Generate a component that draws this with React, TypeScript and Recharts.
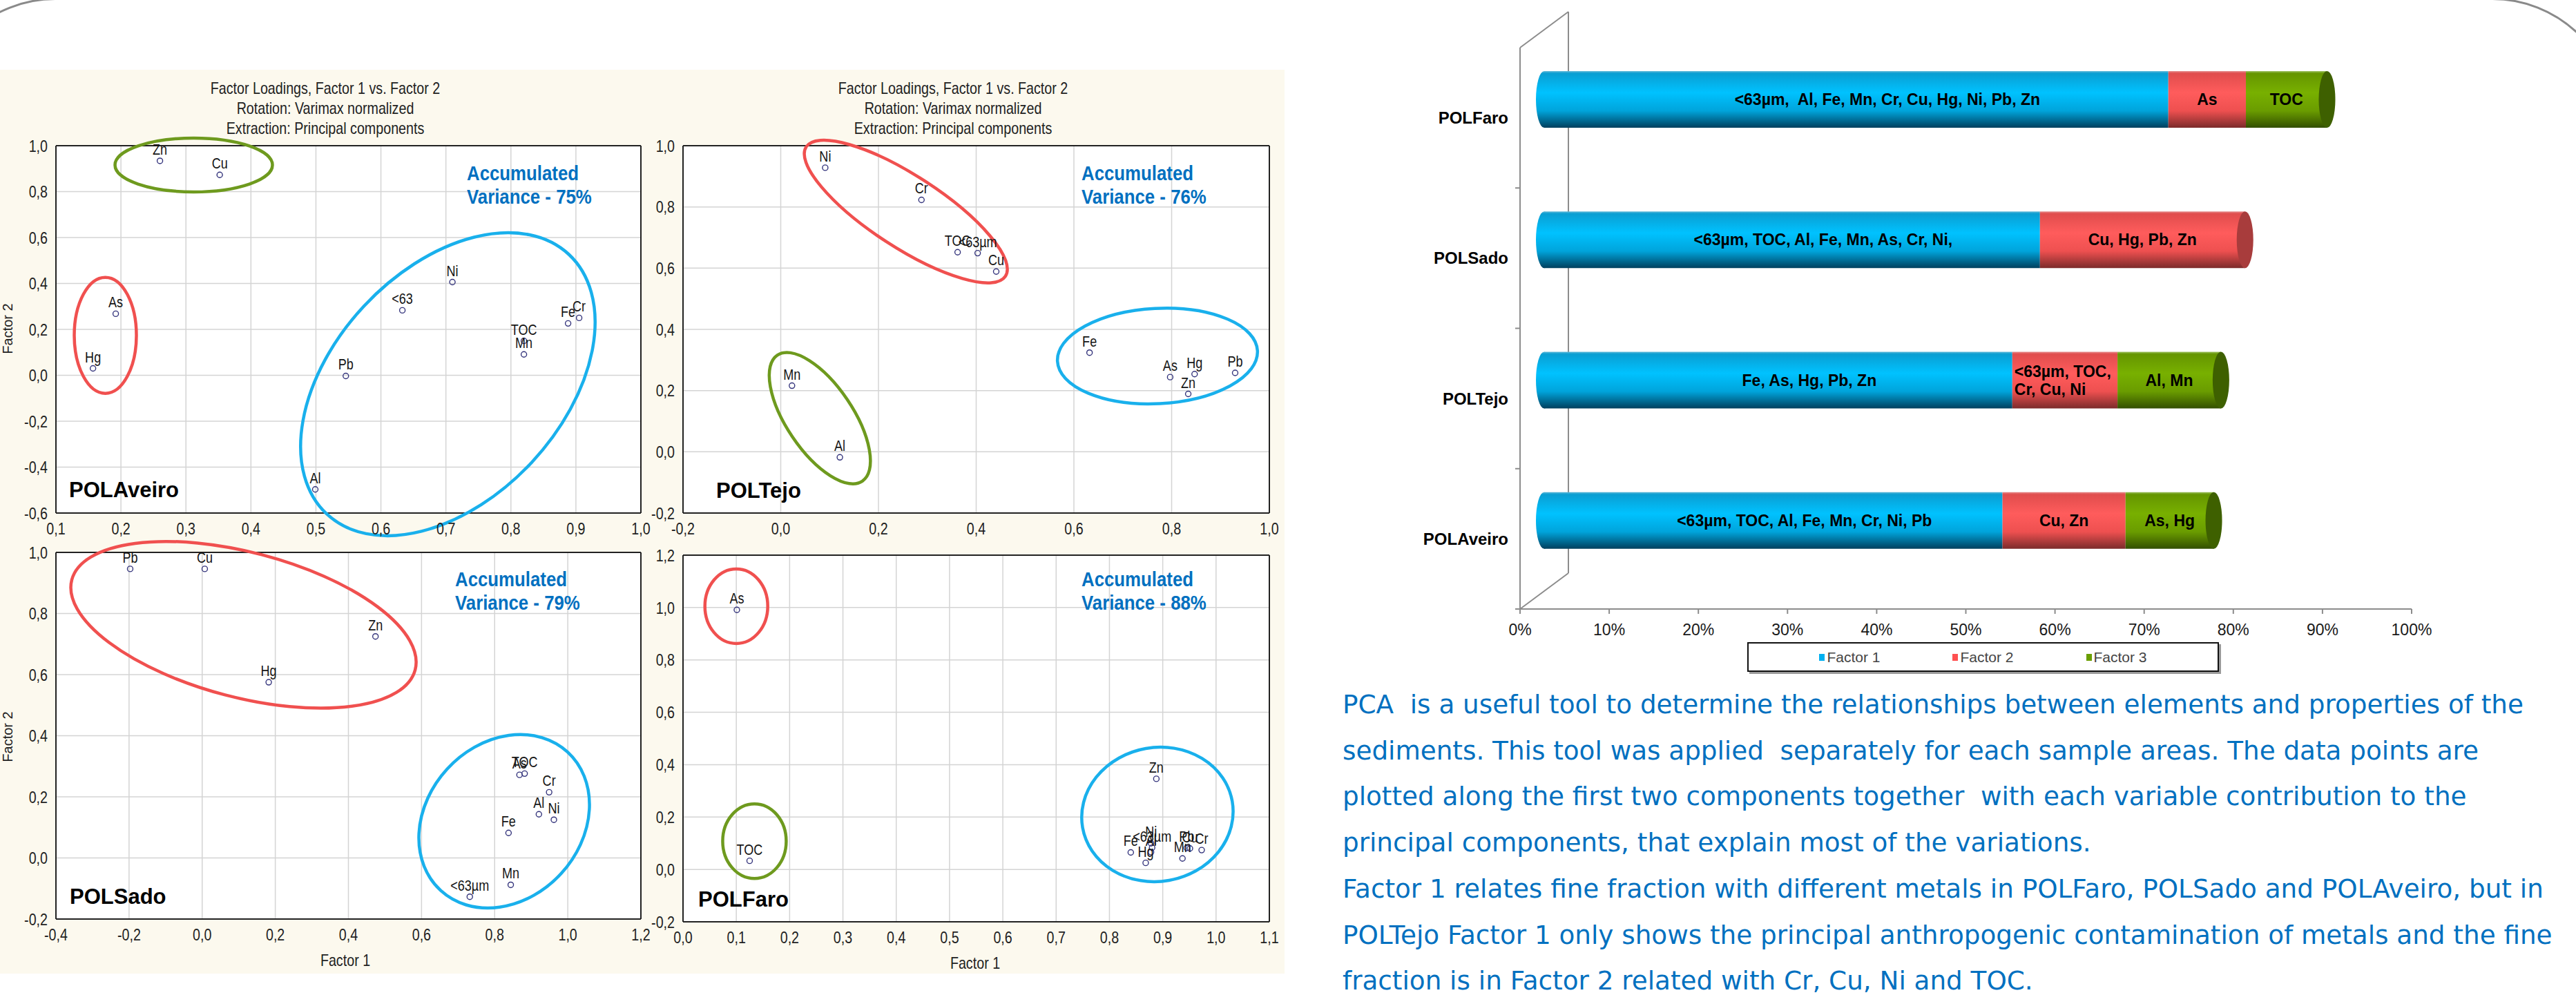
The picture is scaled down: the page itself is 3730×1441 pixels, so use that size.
import React from "react";
import {
  Bar,
  BarChart,
  CartesianGrid,
  ReferenceLine,
  Scatter,
  ScatterChart,
  XAxis,
  YAxis,
} from "recharts";

const SANS = "'Liberation Sans', Arial, sans-serif";
const PARA_FONT = "'DejaVu Sans', Tahoma, Verdana, sans-serif";
// Arial Narrow look-alike: Liberation Sans squeezed horizontally
const NARROW_SCALE = 0.82;

const TEXT_BLUE = "#0070C0";
const RING_BLUE = "#19B0EC";
const RING_RED = "#F0504F";
const RING_GREEN = "#6E9A1E";

// ---------- factor loadings: Factor 1 / Factor 2 per element ----------
const aveiroVars = ["Zn", "Cu", "As", "Hg", "Pb", "<63", "Ni", "TOC", "Mn", "Fe", "Cr", "Al"];
const aveiroF1 = [0.26, 0.352, 0.192, 0.157, 0.546, 0.633, 0.71, 0.82, 0.82, 0.888, 0.905, 0.499];
const aveiroF2 = [0.934, 0.873, 0.268, 0.03, -0.003, 0.283, 0.406, 0.15, 0.091, 0.226, 0.25, -0.497];

const tejoVars = ["Ni", "Cr", "TOC", "<63µm", "Cu", "Fe", "As", "Hg", "Zn", "Pb", "Mn", "Al"];
const tejoF1 = [0.091, 0.288, 0.362, 0.403, 0.441, 0.632, 0.797, 0.847, 0.834, 0.93, 0.023, 0.121];
const tejoF2 = [0.928, 0.823, 0.652, 0.649, 0.589, 0.324, 0.244, 0.254, 0.189, 0.258, 0.216, -0.018];

const sadoVars = ["Pb", "Cu", "Zn", "Hg", "As", "TOC", "Cr", "Al", "Ni", "Fe", "Mn", "<63µm"];
const sadoF1 = [-0.197, 0.007, 0.474, 0.182, 0.868, 0.882, 0.949, 0.921, 0.962, 0.838, 0.844, 0.732];
const sadoF2 = [0.946, 0.946, 0.725, 0.575, 0.272, 0.276, 0.215, 0.143, 0.125, 0.082, -0.088, -0.127];

const faroVars = ["As", "TOC", "Zn", "Ni", "<63µm", "Al", "Fe", "Hg", "Pb", "Cu", "Mn", "Cr"];
const faroF1 = [0.101, 0.125, 0.888, 0.878, 0.88, 0.878, 0.84, 0.868, 0.945, 0.951, 0.937, 0.973];
const faroF2 = [0.991, 0.033, 0.346, 0.1, 0.083, 0.066, 0.065, 0.025, 0.082, 0.08, 0.042, 0.074];

// axis ticks
const aveiroXTicks = [0.1, 0.2, 0.3, 0.4, 0.5, 0.6, 0.7, 0.8, 0.9, 1.0];
const aveiroYTicks = [-0.6, -0.4, -0.2, 0.0, 0.2, 0.4, 0.6, 0.8, 1.0];
const tejoXTicks = [-0.2, 0.0, 0.2, 0.4, 0.6, 0.8, 1.0];
const tejoYTicks = [-0.2, 0.0, 0.2, 0.4, 0.6, 0.8, 1.0];
const sadoXTicks = [-0.4, -0.2, 0.0, 0.2, 0.4, 0.6, 0.8, 1.0, 1.2];
const sadoYTicks = [-0.2, 0.0, 0.2, 0.4, 0.6, 0.8, 1.0];
const faroXTicks = [0.0, 0.1, 0.2, 0.3, 0.4, 0.5, 0.6, 0.7, 0.8, 0.9, 1.0, 1.1];
const faroYTicks = [-0.2, 0.0, 0.2, 0.4, 0.6, 0.8, 1.0, 1.2];

const varianceExplained = ["75%", "76%", "79%", "88%"];

// ---------- share of variance per factor (stacked cylinders) ----------
const areas = ["POLFaro", "POLSado", "POLTejo", "POLAveiro"];
const factor1Share = [70.0, 55.6, 52.5, 51.4];
const factor2Share = [8.7, 23.0, 11.8, 13.8];
const factor3Share = [9.1, 0, 11.6, 9.9];
const factor1Elements = [
  "<63µm,  Al, Fe, Mn, Cr, Cu, Hg, Ni, Pb, Zn",
  "<63µm, TOC, Al, Fe, Mn, As, Cr, Ni,",
  "Fe, As, Hg, Pb, Zn",
  "<63µm, TOC, Al, Fe, Mn, Cr, Ni, Pb",
];
const factor2Elements = ["As", "Cu, Hg, Pb, Zn", "<63µm, TOC,\nCr, Cu, Ni", "Cu, Zn"];
const factor3Elements = ["TOC", "", "Al, Mn", "As, Hg"];
const percentTicks = [0, 10, 20, 30, 40, 50, 60, 70, 80, 90, 100];

const paragraph = [
  "PCA  is a useful tool to determine the relationships between elements and properties of the",
  "sediments. This tool was applied  separately for each sample areas. The data points are",
  "plotted along the first two components together  with each variable contribution to the",
  "principal components, that explain most of the variations.",
  "Factor 1 relates fine fraction with different metals in POLFaro, POLSado and POLAveiro, but in",
  "POLTejo Factor 1 only shows the principal anthropogenic contamination of metals and the fine",
  "fraction is in Factor 2 related with Cr, Cu, Ni and TOC.",
];

const toPoints = (vars: string[], f1: number[], f2: number[]) =>
  vars.map((name, i) => ({ name, f1: f1[i], f2: f2[i] }));

const factorData = areas.map((area, i) => ({
  area,
  f1: factor1Share[i],
  f2: factor2Share[i],
  f3: factor3Share[i],
  l1: factor1Elements[i],
  l2: factor2Elements[i],
  l3: factor3Elements[i],
}));

// group outlines drawn around clustered loadings (centre in factor units, radii in px)
const plots = [
  {
    key: "aveiro",
    name: "POLAveiro",
    variance: varianceExplained[0],
    box: { left: 81, top: 212, width: 846, height: 531 },
    xDomain: [0.1, 1.0],
    yDomain: [-0.6, 1.0],
    xTicks: aveiroXTicks,
    yTicks: aveiroYTicks,
    points: toPoints(aveiroVars, aveiroF1, aveiroF2),
    groups: [
      { f1: 0.312, f2: 0.916, rx: 114, ry: 39, tilt: 0, stroke: RING_GREEN },
      { f1: 0.176, f2: 0.174, rx: 45, ry: 84, tilt: 0, stroke: RING_RED },
      { f1: 0.703, f2: -0.039, rx: 257, ry: 166, tilt: -47, stroke: RING_BLUE },
    ],
    title: { x: 471 },
    varPos: { x: 676, y: 251 },
    namePos: { x: 100, y: 710 },
    yLabel: { x: 11, y: 476 },
  },
  {
    key: "tejo",
    name: "POLTejo",
    variance: varianceExplained[1],
    box: { left: 989, top: 212, width: 848, height: 531 },
    xDomain: [-0.2, 1.0],
    yDomain: [-0.2, 1.0],
    xTicks: tejoXTicks,
    yTicks: tejoYTicks,
    points: toPoints(tejoVars, tejoF1, tejoF2),
    groups: [
      { f1: 0.256, f2: 0.785, rx: 172, ry: 52, tilt: 33, stroke: RING_RED },
      { f1: 0.08, f2: 0.11, rx: 110, ry: 48, tilt: 56, stroke: RING_GREEN },
      { f1: 0.771, f2: 0.313, rx: 145, ry: 69, tilt: -3, stroke: RING_BLUE },
    ],
    title: { x: 1380 },
    varPos: { x: 1566, y: 251 },
    namePos: { x: 1037, y: 711 },
  },
  {
    key: "sado",
    name: "POLSado",
    variance: varianceExplained[2],
    box: { left: 81, top: 801, width: 846, height: 530 },
    xDomain: [-0.4, 1.2],
    yDomain: [-0.2, 1.0],
    xTicks: sadoXTicks,
    yTicks: sadoYTicks,
    points: toPoints(sadoVars, sadoF1, sadoF2),
    groups: [
      { f1: 0.113, f2: 0.763, rx: 257, ry: 105, tilt: 14.7, stroke: RING_RED },
      { f1: 0.826, f2: 0.12, rx: 136, ry: 112, tilt: -47.5, stroke: RING_BLUE },
    ],
    varPos: { x: 659, y: 839 },
    namePos: { x: 101, y: 1299 },
    yLabel: { x: 11, y: 1067 },
    xLabel: { x: 500, y: 1391 },
  },
  {
    key: "faro",
    name: "POLFaro",
    variance: varianceExplained[3],
    box: { left: 989, top: 805, width: 848, height: 530 },
    xDomain: [0.0, 1.1],
    yDomain: [-0.2, 1.2],
    xTicks: faroXTicks,
    yTicks: faroYTicks,
    points: toPoints(faroVars, faroF1, faroF2),
    groups: [
      { f1: 0.1, f2: 1.005, rx: 45.5, ry: 54, tilt: 0, stroke: RING_RED },
      { f1: 0.134, f2: 0.108, rx: 46, ry: 54, tilt: 0, stroke: RING_GREEN },
      { f1: 0.89, f2: 0.21, rx: 110, ry: 97, tilt: -10, stroke: RING_BLUE },
    ],
    varPos: { x: 1566, y: 839 },
    namePos: { x: 1011, y: 1303 },
    xLabel: { x: 1412, y: 1395 },
  },
];

const fmtLoading = (v: number) => v.toFixed(1).replace(".", ",");

// narrow SVG text: squeeze around the anchor point
const NarrowText = ({ x, y, anchor, dy, size, fill, children }: any) => (
  <text
    transform={`translate(${x} ${y}) scale(${NARROW_SCALE} 1)`}
    textAnchor={anchor}
    dy={dy}
    fontFamily={SANS}
    fontSize={size}
    fill={fill}
  >
    {children}
  </text>
);

const LoadingTickX = (p: any) => (
  <NarrowText x={p.x} y={p.y} anchor="middle" dy="0.71em" size={24} fill="#222">
    {fmtLoading(p.payload.value)}
  </NarrowText>
);

const LoadingTickY = (p: any) => (
  <NarrowText x={p.x} y={p.y} anchor="end" dy="0.36em" size={24} fill="#222">
    {fmtLoading(p.payload.value)}
  </NarrowText>
);

const LoadingPoint = (p: any) => (
  <g>
    <circle cx={p.cx} cy={p.cy} r={4} fill="none" stroke="#34347c" strokeWidth={1.4} />
    <NarrowText x={p.cx} y={p.cy - 9} anchor="middle" size={22} fill="#151515">
      {p.payload.name}
    </NarrowText>
  </g>
);

const GroupRing = (p: any) => {
  const g = p.payload;
  return (
    <ellipse
      cx={p.cx}
      cy={p.cy}
      rx={g.rx}
      ry={g.ry}
      transform={`rotate(${g.tilt} ${p.cx} ${p.cy})`}
      fill="none"
      stroke={g.stroke}
      strokeWidth={4.5}
    />
  );
};

function Note({ x, y, children, style, anchor = "center", extra = "" }: any) {
  const shift = anchor === "center" ? "translate(-50%, -50%)" : "translate(0, -50%)";
  return (
    <div
      style={{
        position: "absolute",
        left: x,
        top: y,
        transform: `${shift} ${extra}`,
        transformOrigin: anchor === "center" ? "50% 50%" : "0 50%",
        whiteSpace: "pre",
        ...style,
      }}
    >
      {children}
    </div>
  );
}

const PAD_TOP = 20;
const PAD_LEFT = 80;
const PAD_RIGHT = 30;
const PAD_BOTTOM = 60;

function LoadingPlot({ plot }: any) {
  const { box } = plot;
  const W = box.width + PAD_LEFT + PAD_RIGHT;
  const H = box.height + PAD_TOP + PAD_BOTTOM;
  const frame = { stroke: "#222", strokeWidth: 2 };
  return (
    <div style={{ position: "absolute", left: box.left - PAD_LEFT, top: box.top - PAD_TOP }}>
      <ScatterChart
        width={W}
        height={H}
        margin={{ top: PAD_TOP - 1, right: PAD_RIGHT - 1, bottom: PAD_BOTTOM - 40, left: PAD_LEFT - 70 }}
      >
        <CartesianGrid stroke="#d4d4d4" strokeWidth={1.5} fill="#ffffff" />
        <XAxis
          type="number"
          dataKey="f1"
          domain={plot.xDomain}
          ticks={plot.xTicks}
          height={40}
          tickLine={false}
          tickMargin={8}
          axisLine={frame}
          tick={<LoadingTickX />}
        />
        <YAxis
          type="number"
          dataKey="f2"
          domain={plot.yDomain}
          ticks={plot.yTicks}
          width={70}
          tickLine={false}
          tickMargin={6}
          axisLine={frame}
          tick={<LoadingTickY />}
        />
        <XAxis
          xAxisId="top"
          orientation="top"
          type="number"
          domain={plot.xDomain}
          ticks={plot.xTicks}
          height={1}
          mirror
          tick={false}
          tickSize={6}
          axisLine={frame}
          tickLine={{ stroke: "#222", strokeWidth: 1.5 }}
        />
        <YAxis
          yAxisId="right"
          orientation="right"
          type="number"
          domain={plot.yDomain}
          ticks={plot.yTicks}
          width={1}
          mirror
          tick={false}
          tickSize={6}
          axisLine={frame}
          tickLine={{ stroke: "#222", strokeWidth: 1.5 }}
        />
        <Scatter data={plot.groups} shape={GroupRing} isAnimationActive={false} />
        <Scatter data={plot.points} shape={LoadingPoint} isAnimationActive={false} />
      </ScatterChart>
    </div>
  );
}

// ---------- 3D-look cylinder segments ----------
const DEPTH_X = 35;
const DEPTH_Y = -27;
const CAP_RX = 12;
const WALL_X = 70;
const WALL_Y = -52;

const BAR_W = 1600;
const BAR_H = 1000;
const BAR_MARGIN = { top: 69, right: 108, bottom: 78, left: 11 };
const CAT_AXIS_W = 190;
const VAL_AXIS_H = 40;

const series = [
  { key: "f1", label: "l1", name: "Factor 1", grad: "cylBlue", cap: "#0a6e96", swatch: "#00B0F0", dx: 45, later: ["f2", "f3"] },
  { key: "f2", label: "l2", name: "Factor 2", grad: "cylRed", cap: "#a83c3c", swatch: "#FF5050", dx: 0, later: ["f3"] },
  { key: "f3", label: "l3", name: "Factor 3", grad: "cylGreen", cap: "#3e6000", swatch: "#6A9E00", dx: 0, later: [] as string[] },
];

const makeCylinder = (s: (typeof series)[number], first: boolean) => (p: any) => {
  const w = p.width;
  if (!w || w <= 0) return <g />;
  const x = p.x + DEPTH_X;
  const y = p.y + DEPTH_Y;
  const h = p.height;
  const last = s.later.every((k) => !(p.payload[k] > 0));
  const text: string = p.payload[s.label] || "";
  const lines = text.split("\n");
  const multi = lines.length > 1;
  const tx = multi ? x + 3 : x + w / 2 + s.dx;
  const lh = 26;
  return (
    <g>
      {first && <ellipse cx={x} cy={y + h / 2} rx={CAP_RX} ry={h / 2} fill={`url(#${s.grad})`} />}
      <rect x={x} y={y} width={w} height={h} fill={`url(#${s.grad})`} />
      {last && <ellipse cx={x + w} cy={y + h / 2} rx={CAP_RX} ry={h / 2} fill={s.cap} />}
      <text
        x={tx}
        y={y + h / 2 - ((lines.length - 1) * lh) / 2}
        textAnchor={multi ? "start" : "middle"}
        dominantBaseline="central"
        fontFamily={SANS}
        fontWeight="bold"
        fontSize={23}
        fill="#000"
        style={{ whiteSpace: "pre" }}
      >
        {lines.map((ln, i) => (
          <tspan key={i} x={tx} dy={i === 0 ? 0 : lh}>
            {ln}
          </tspan>
        ))}
      </text>
    </g>
  );
};

const Wall = (p: any) => {
  const { x1, y1, x2, y2 } = p;
  const top = Math.min(y1, y2);
  const bottom = Math.max(y1, y2);
  const step = (bottom - top) / areas.length;
  return (
    <g stroke="#8c8c8c" strokeWidth={2} fill="none">
      <line x1={x1} y1={top} x2={x2} y2={bottom} />
      <line x1={x1 + WALL_X} y1={top + WALL_Y} x2={x2 + WALL_X} y2={bottom + WALL_Y} />
      <line x1={x1} y1={top} x2={x1 + WALL_X} y2={top + WALL_Y} />
      <line x1={x2} y1={bottom} x2={x2 + WALL_X} y2={bottom + WALL_Y} />
      {areas.map((_, i) => (
        <line key={i} x1={x1 - 7} x2={x1} y1={top + (i + 1) * step} y2={top + (i + 1) * step} />
      ))}
    </g>
  );
};

const NoShape = () => <g />;

// back layer: axes and the wall, so the cylinders sit in front of it
function FactorShareFrame() {
  return (
    <BarChart width={BAR_W} height={BAR_H} data={factorData} layout="vertical" margin={BAR_MARGIN} barSize={82}>
      <XAxis
        type="number"
        domain={[0, 100]}
        ticks={percentTicks}
        tickFormatter={(v: number) => `${v}%`}
        height={VAL_AXIS_H}
        tickSize={7}
        tickMargin={15}
        axisLine={{ stroke: "#8c8c8c", strokeWidth: 2 }}
        tickLine={{ stroke: "#8c8c8c", strokeWidth: 2 }}
        tick={{ fontFamily: SANS, fontSize: 23, fill: "#1a1a1a" }}
      />
      <YAxis
        type="category"
        dataKey="area"
        width={CAT_AXIS_W}
        axisLine={false}
        tickLine={false}
        tickMargin={11}
        tick={{ fontFamily: SANS, fontSize: 24, fontWeight: "bold", fill: "#000" }}
      />
      <ReferenceLine x={0} shape={Wall} ifOverflow="visible" />
      {series.map((s) => (
        <Bar key={s.key} dataKey={s.key} stackId="share" shape={NoShape} isAnimationActive={false} />
      ))}
    </BarChart>
  );
}

function FactorShareBars() {
  return (
    <BarChart
      width={BAR_W}
      height={BAR_H}
      data={factorData}
      layout="vertical"
      margin={{
        top: BAR_MARGIN.top,
        right: BAR_MARGIN.right,
        bottom: BAR_MARGIN.bottom + VAL_AXIS_H,
        left: BAR_MARGIN.left + CAT_AXIS_W,
      }}
      barSize={82}
    >
      <defs>
        <linearGradient id="cylBlue" x1="0" y1="0" x2="0" y2="1">
          <stop offset="0%" stopColor="#5fb8d8" />
          <stop offset="4%" stopColor="#0a9ed2" />
          <stop offset="38%" stopColor="#00c2ff" />
          <stop offset="70%" stopColor="#00a4db" />
          <stop offset="100%" stopColor="#00405e" />
        </linearGradient>
        <linearGradient id="cylRed" x1="0" y1="0" x2="0" y2="1">
          <stop offset="0%" stopColor="#e58a8a" />
          <stop offset="4%" stopColor="#e04d4d" />
          <stop offset="38%" stopColor="#ff5c5c" />
          <stop offset="70%" stopColor="#ee5050" />
          <stop offset="100%" stopColor="#7c2b2b" />
        </linearGradient>
        <linearGradient id="cylGreen" x1="0" y1="0" x2="0" y2="1">
          <stop offset="0%" stopColor="#9cc060" />
          <stop offset="4%" stopColor="#659500" />
          <stop offset="38%" stopColor="#78b000" />
          <stop offset="70%" stopColor="#6a9c00" />
          <stop offset="100%" stopColor="#334f00" />
        </linearGradient>
      </defs>
      <XAxis type="number" domain={[0, 100]} hide />
      <YAxis type="category" dataKey="area" hide />
      {series.map((s, i) => (
        <Bar
          key={s.key}
          dataKey={s.key}
          name={s.name}
          stackId="share"
          fill={s.swatch}
          shape={makeCylinder(s, i === 0)}
          isAnimationActive={false}
        />
      ))}
    </BarChart>
  );
}

function ShareLegend() {
  return (
    <div
      style={{
        position: "absolute",
        left: 2530,
        top: 930,
        width: 683,
        height: 43,
        boxSizing: "border-box",
        border: "2px solid #111",
        boxShadow: "3px 3px 0 #9a9a9a",
        display: "flex",
        alignItems: "center",
        justifyContent: "center",
        gap: 105,
        background: "#fff",
      }}
    >
      {series.map((s) => (
        <div key={s.key} style={{ display: "flex", alignItems: "center", gap: 3 }}>
          <span style={{ width: 8, height: 10, background: s.swatch, display: "inline-block" }} />
          <span style={{ fontFamily: SANS, fontSize: 21, color: "#444" }}>{s.name}</span>
        </div>
      ))}
    </div>
  );
}

export default function App() {
  const narrowStyle = { fontFamily: SANS, fontSize: 24, color: "#222" };
  const squeeze = `scaleX(${NARROW_SCALE})`;
  return (
    <div
      style={{
        position: "absolute",
        left: 0,
        top: 0,
        width: 3730,
        height: 1441,
        overflow: "hidden",
        background: "#fff",
      }}
    >
      {/* rounded slide frame, only the top corners fall inside */}
      <div
        style={{
          position: "absolute",
          left: -100,
          top: -3,
          width: 3889,
          height: 2000,
          boxSizing: "border-box",
          border: "3px solid #8a8a8a",
          borderRadius: 180,
        }}
      />
      <div
        style={{
          position: "absolute",
          left: 0,
          top: 101,
          width: 1860,
          height: 1309,
          background: "#FCF9EE",
        }}
      />
      {plots.map((p) => (
        <LoadingPlot key={p.key} plot={p} />
      ))}
      {plots
        .filter((p) => p.title)
        .map((p) => (
          <React.Fragment key={`t-${p.key}`}>
            <Note x={p.title!.x} y={128} style={narrowStyle} extra={squeeze}>
              Factor Loadings, Factor 1 vs. Factor 2
            </Note>
            <Note x={p.title!.x} y={157} style={narrowStyle} extra={squeeze}>
              Rotation: Varimax normalized
            </Note>
            <Note x={p.title!.x} y={186} style={narrowStyle} extra={squeeze}>
              Extraction: Principal components
            </Note>
          </React.Fragment>
        ))}
      {plots.map((p) => (
        <div
          key={`v-${p.key}`}
          style={{
            position: "absolute",
            left: p.varPos.x,
            top: p.varPos.y - 17,
            fontFamily: SANS,
            fontWeight: "bold",
            fontSize: 29,
            lineHeight: "34px",
            color: TEXT_BLUE,
            whiteSpace: "pre",
            transform: "scaleX(0.89)",
            transformOrigin: "0 0",
          }}
        >
          {`Accumulated\nVariance - ${p.variance}`}
        </div>
      ))}
      {plots.map((p) => (
        <Note
          key={`n-${p.key}`}
          x={p.namePos.x}
          y={p.namePos.y}
          anchor="left"
          style={{ fontFamily: SANS, fontWeight: "bold", fontSize: 31, color: "#000" }}
        >
          {p.name}
        </Note>
      ))}
      {plots
        .filter((p) => p.yLabel)
        .map((p) => (
          <Note
            key={`y-${p.key}`}
            x={p.yLabel!.x}
            y={p.yLabel!.y}
            extra="rotate(-90deg)"
            style={{ fontFamily: SANS, fontSize: 20, color: "#222" }}
          >
            Factor 2
          </Note>
        ))}
      {plots
        .filter((p) => p.xLabel)
        .map((p) => (
          <Note key={`x-${p.key}`} x={p.xLabel!.x} y={p.xLabel!.y} style={narrowStyle} extra={squeeze}>
            Factor 1
          </Note>
        ))}

      <div style={{ position: "absolute", left: 2000, top: 0 }}>
        <FactorShareFrame />
      </div>
      <div style={{ position: "absolute", left: 2000, top: 0 }}>
        <FactorShareBars />
      </div>
      <ShareLegend />

      <div
        style={{
          position: "absolute",
          left: 1944,
          top: 987,
          fontFamily: PARA_FONT,
          fontSize: 37.3,
          lineHeight: "66.7px",
          color: TEXT_BLUE,
          whiteSpace: "pre",
        }}
      >
        {paragraph.join("\n")}
      </div>
    </div>
  );
}
